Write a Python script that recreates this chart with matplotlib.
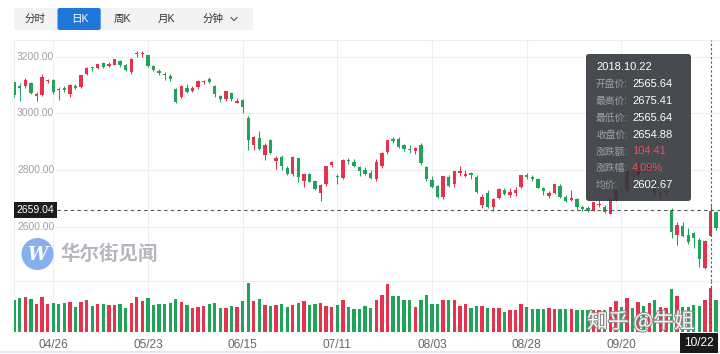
import matplotlib

matplotlib.use("Agg")
import matplotlib.pyplot as plt
import matplotlib.patheffects as pe
import numpy as np
from matplotlib.lines import Line2D
from matplotlib.patches import Ellipse, FancyBboxPatch, Rectangle

plt.rcParams["font.family"] = ["Liberation Sans", "Noto Sans CJK SC", "DejaVu Sans"]

# ---- data (SSE composite, daily K) ----
dates = [
    "04/17", "04/18", "04/19", "04/20", "04/23", "04/24", "04/25", "04/26", "04/27",
    "05/02", "05/03", "05/04", "05/07", "05/08", "05/09", "05/10", "05/11", "05/14",
    "05/15", "05/16", "05/17", "05/18", "05/21", "05/22", "05/23", "05/24", "05/25",
    "05/28", "05/29", "05/30", "05/31",
    "06/01", "06/04", "06/05", "06/06", "06/07", "06/08", "06/11", "06/12", "06/13",
    "06/14", "06/15", "06/19", "06/20", "06/21", "06/22", "06/25", "06/26", "06/27",
    "06/28", "06/29",
    "07/02", "07/03", "07/04", "07/05", "07/06", "07/09", "07/10", "07/11", "07/12",
    "07/13", "07/16", "07/17", "07/18", "07/19", "07/20", "07/23", "07/24", "07/25",
    "07/26", "07/27", "07/30", "07/31",
    "08/01", "08/02", "08/03", "08/06", "08/07", "08/08", "08/09", "08/10", "08/13",
    "08/14", "08/15", "08/16", "08/17", "08/20", "08/21", "08/22", "08/23", "08/24",
    "08/27", "08/28", "08/29", "08/30", "08/31",
    "09/03", "09/04", "09/05", "09/06", "09/07", "09/10", "09/11", "09/12", "09/13",
    "09/14", "09/17", "09/18", "09/19", "09/20", "09/21", "09/25", "09/26", "09/27",
    "09/28",
    "10/08", "10/09", "10/10", "10/11", "10/12", "10/15", "10/16", "10/17", "10/18",
    "10/19", "10/22", "10/23",
]

opens = [
    3110, 3098, 3096, 3106, 3062, 3066, 3114, 3117, 3085, 3089,
    3070, 3098, 3092, 3138, 3162, 3160, 3178, 3167, 3172, 3185,
    3170, 3146, 3208, 3210, 3205, 3166, 3150, 3140, 3133, 3085,
    3058, 3089, 3080, 3093, 3111, 3123, 3098, 3060, 3050, 3072,
    3038, 3046, 2985, 2888, 2913, 2853, 2906, 2832, 2847, 2807,
    2787, 2842, 2760, 2785, 2760, 2720, 2750, 2818, 2780, 2772,
    2836, 2830, 2812, 2800, 2790, 2770, 2815, 2862, 2910, 2908,
    2888, 2875, 2866, 2890, 2810, 2765, 2745, 2705, 2775, 2750,
    2790, 2780, 2788, 2776, 2675, 2720, 2668, 2700, 2730, 2712,
    2718, 2740, 2782, 2776, 2770, 2736, 2710, 2718, 2745, 2705,
    2695, 2698, 2668, 2666, 2660, 2675, 2670, 2645, 2695, 2732,
    2728, 2790, 2784, 2800, 2795, 2768, 2713, 2722, 2660, 2572,
    2603, 2572, 2578, 2553, 2455, 2565.64, 2653,
]
highs = [
    3112, 3106, 3126, 3110, 3075, 3140, 3123, 3120, 3092, 3095,
    3102, 3102, 3137, 3163, 3165, 3175, 3180, 3180, 3193, 3188,
    3173, 3194, 3220, 3219, 3206, 3170, 3155, 3145, 3140, 3090,
    3100, 3102, 3096, 3116, 3117, 3127, 3100, 3065, 3080, 3075,
    3055, 3050, 2990, 2921, 2938, 2895, 2910, 2851, 2852, 2815,
    2848, 2844, 2790, 2790, 2765, 2752, 2815, 2831, 2785, 2840,
    2844, 2838, 2815, 2810, 2800, 2838, 2862, 2907, 2915, 2915,
    2893, 2888, 2882, 2895, 2815, 2778, 2748, 2780, 2782, 2796,
    2815, 2800, 2792, 2782, 2715, 2730, 2700, 2736, 2736, 2735,
    2740, 2782, 2790, 2784, 2772, 2740, 2725, 2752, 2750, 2712,
    2730, 2700, 2675, 2672, 2688, 2693, 2675, 2700, 2732, 2736,
    2798, 2795, 2827, 2815, 2827, 2771, 2728, 2732, 2667, 2615,
    2615, 2595, 2581, 2560, 2553, 2675.41, 2655,
]
lows = [
    3056, 3042, 3090, 3068, 3043, 3062, 3108, 3069, 3047, 3075,
    3057, 3085, 3090, 3136, 3150, 3155, 3160, 3165, 3170, 3162,
    3148, 3139, 3200, 3200, 3164, 3148, 3135, 3118, 3115, 3037,
    3055, 3071, 3077, 3087, 3102, 3107, 3059, 3041, 3045, 3044,
    3035, 3000, 2871, 2872, 2869, 2836, 2855, 2803, 2800, 2782,
    2780, 2757, 2740, 2757, 2730, 2691, 2745, 2810, 2752, 2770,
    2822, 2810, 2778, 2782, 2770, 2763, 2808, 2855, 2895, 2877,
    2868, 2860, 2855, 2818, 2762, 2736, 2700, 2698, 2740, 2740,
    2780, 2775, 2770, 2720, 2666, 2666, 2655, 2698, 2713, 2705,
    2710, 2735, 2770, 2760, 2735, 2712, 2700, 2715, 2700, 2688,
    2690, 2660, 2657, 2652, 2655, 2670, 2648, 2644, 2690, 2716,
    2722, 2770, 2780, 2788, 2792, 2710, 2700, 2710, 2560, 2536,
    2562, 2538, 2524, 2457, 2449, 2565.64, 2590,
]
closes = [
    3066, 3091, 3117, 3071, 3068, 3128, 3117, 3075, 3082, 3081,
    3100, 3091, 3136, 3161, 3159, 3174, 3163, 3174, 3192, 3169,
    3154, 3193, 3213, 3214, 3168, 3154, 3141, 3135, 3120, 3041,
    3095, 3075, 3091, 3114, 3115, 3109, 3067, 3052, 3079, 3049,
    3044, 3021, 2907, 2915, 2875, 2889, 2859, 2844, 2813, 2786,
    2847, 2775, 2786, 2759, 2733, 2747, 2815, 2827, 2777, 2837,
    2831, 2814, 2798, 2787, 2773, 2829, 2859, 2905, 2903, 2882,
    2873, 2869, 2876, 2824, 2768, 2740, 2705, 2779, 2744, 2795,
    2795, 2785, 2781, 2723, 2705, 2669, 2698, 2733, 2714, 2724,
    2730, 2781, 2777, 2769, 2737, 2725, 2720, 2750, 2705, 2692,
    2702, 2669, 2664, 2656, 2686, 2681, 2651, 2699, 2730, 2729,
    2797, 2781, 2806, 2792, 2821, 2716, 2721, 2725, 2583, 2606,
    2568, 2546, 2560, 2486, 2550, 2654.88, 2595,
]
volumes = [
    96, 101, 104, 99, 84, 104, 83, 87, 85, 87,
    90, 75, 90, 95, 78, 84, 84, 82, 80, 84,
    72, 87, 106, 93, 102, 80, 83, 83, 87, 99,
    90, 82, 73, 75, 78, 83, 87, 71, 73, 77,
    75, 92, 148, 93, 99, 81, 78, 80, 83, 75,
    80, 87, 93, 81, 83, 87, 77, 75, 82, 95,
    75, 68, 68, 77, 73, 95, 111, 145, 108, 108,
    95, 96, 75, 96, 111, 83, 83, 96, 95, 97,
    78, 83, 71, 77, 78, 73, 73, 73, 61, 65,
    66, 85, 75, 69, 69, 69, 71, 69, 68, 68,
    68, 67, 67, 65, 65, 65, 65, 76, 93, 76,
    101, 73, 89, 79, 86, 96, 75, 73, 129, 108,
    76, 76, 81, 79, 96, 133, 96,
]

tick_dates = ["04/26", "05/23", "06/15", "07/11", "08/03", "08/28", "09/20"]
price_ticks = [3200, 3000, 2800, 2600]
cursor_date = "10/22"
cursor_price = 2659.04

tip_date = "2018.10.22"
tip_labels = ["开盘价:", "最高价:", "最低价:", "收盘价:", "涨跌额:", "涨跌幅:", "均价:"]
tip_values = ["2565.64", "2675.41", "2565.64", "2654.88", "104.41", "4.09%", "2602.67"]

tabs = ["分时", "日K", "周K", "月K", "分钟"]

RED = "#e5334d"
GREEN = "#22a35a"
GRID = "#eceef1"

W, H = 720, 354


def fx(px):
    return px / W


def fy(py):
    return 1 - py / H


fig = plt.figure(figsize=(W / 100, H / 100), dpi=100)
fig.patch.set_facecolor("white")

ax = fig.add_axes([fx(14), fy(281), fx(720) - fx(14), fy(40) - fy(281)])
axv = fig.add_axes([fx(14), fy(332), fx(720) - fx(14), fy(281) - fy(332)])

o = np.array(opens, dtype=float)
h = np.array(highs, dtype=float)
l = np.array(lows, dtype=float)
c = np.array(closes, dtype=float)
x = np.arange(len(dates))
colors = np.where(c >= o, RED, GREEN)

body_bottom = np.minimum(o, c)
body_height = np.maximum(np.abs(c - o), 2.5)

ax.vlines(x, l, h, colors=colors, lw=0.75, zorder=3)
ax.bar(x, body_height, bottom=body_bottom, width=0.6, color=colors, lw=0, zorder=4)
axv.bar(x, volumes, width=0.6, color=colors, lw=0, zorder=3)

xlim = (-0.04, 126.7)
ax.set_xlim(*xlim)
axv.set_xlim(*xlim)
ax.set_ylim(2408.3, 3258.9)
axv.set_ylim(0, 153)

for a in (ax, axv):
    a.set_xticks([])
    a.set_yticks([])
    for s in a.spines.values():
        s.set_visible(False)
    a.spines["left"].set_visible(True)
    a.spines["left"].set_color(GRID)
    a.spines["top"].set_visible(True)
    a.spines["top"].set_color(GRID)
    for d in tick_dates:
        a.axvline(dates.index(d), color=GRID, lw=0.8, zorder=0)

for p in price_ticks:
    ax.axhline(p, color=GRID, lw=0.8, zorder=0)
    ax.text((17 - 14) / 706, p, f"{p:.2f}", transform=ax.get_yaxis_transform(),
            ha="left", va="center", fontsize=7.4, color="#a0a0a0", zorder=5,
            bbox=dict(boxstyle="square,pad=0.1", fc="white", ec="none"))

# crosshair
ci = dates.index(cursor_date)
ax.axvline(ci, color="#555555", lw=0.8, ls=(0, (2, 2)), zorder=6)
axv.axvline(ci, color="#555555", lw=0.8, ls=(0, (2, 2)), zorder=6)
ax.axhline(cursor_price, xmin=(57 - 14) / 706, xmax=1, color="#555555", lw=0.8,
           ls=(0, (3, 3)), zorder=6)
ax.text((16.6 - 14) / 706, cursor_price, f"{cursor_price:.2f}",
        transform=ax.get_yaxis_transform(), ha="left", va="center", fontsize=7.5,
        color="white", zorder=7,
        bbox=dict(boxstyle="square,pad=0.28", fc="#1c1c1c", ec="none"))

# x labels
for d in tick_dates:
    axv.text(dates.index(d), (332 - 348.5) / 51, d, transform=axv.get_xaxis_transform(),
             ha="center", va="baseline", fontsize=8.6, color="#666666", clip_on=False)
fig.text(fx(699), fy(346), cursor_date, ha="center", va="baseline", fontsize=8.6,
         color="white", zorder=8,
         bbox=dict(boxstyle="square,pad=0.32", fc="#1a1a1a", ec="none"))

# bottom border
fig.add_artist(Line2D([0, 1], [fy(352), fy(352)], color="#d8e5f2", lw=1.2))

# toolbar
fig.add_artist(Rectangle((fx(14), fy(30)), fx(253) - fx(14), fy(8) - fy(30),
                         fc="#f2f3f5", ec="none"))
fig.add_artist(FancyBboxPatch((fx(57.5), fy(30)), fx(100.7) - fx(57.5), fy(8) - fy(30),
                              boxstyle="round,pad=0,rounding_size=0.003",
                              mutation_aspect=W / H, fc="#1e78dc", ec="none"))
tab_x = [35, 80, 122, 166, 213]
for t, tx in zip(tabs, tab_x):
    fig.text(fx(tx), fy(19), t, ha="center", va="center", fontsize=7.6,
             color="white" if t == "日K" else "#333333")
fig.add_artist(Line2D([fx(231), fx(234), fx(237)], [fy(17.5), fy(20.5), fy(17.5)],
                      color="#555555", lw=0.8))

# watermark logo
fig.add_artist(Ellipse((fx(37.5), fy(254)), 32 / W, 32 / H, fc="#7aa7e9", ec="none",
                       alpha=0.9))
fig.text(fx(37.5), fy(254.5), "W", ha="center", va="center", fontsize=13,
         color="white", weight="bold", family="DejaVu Serif", style="italic")
fig.text(fx(60), fy(254), "华尔街见闻", ha="left", va="center", fontsize=14,
         color="#b3b7bd", weight="bold", family=["Noto Sans CJK SC", "DejaVu Sans"])

# tooltip
fig.add_artist(FancyBboxPatch((fx(586), fy(201)), fx(691) - fx(586), fy(54) - fy(201),
                              boxstyle="round,pad=0,rounding_size=0.004",
                              mutation_aspect=W / H, fc="#33363b", ec="none",
                              alpha=0.9, zorder=5))
fig.text(fx(596), fy(67.5), tip_date, ha="left", va="center", fontsize=8,
         color="white", zorder=6)
for k, (lab, val) in enumerate(zip(tip_labels, tip_values)):
    yy = 84.3 + k * 16.8
    fig.text(fx(596), fy(yy), lab, ha="left", va="center", fontsize=7,
             color="#9ea2a8", zorder=6)
    vc = "#ec4c64" if lab in ("涨跌额:", "涨跌幅:") else "white"
    fig.text(fx(632), fy(yy), val, ha="left", va="center", fontsize=8, color=vc,
             zorder=6)

# zhihu watermark
fig.text(fx(587), fy(322), "知乎 @牛姐", ha="left", va="center", fontsize=15,
         color="white", alpha=0.95, zorder=9,
         family=["Noto Sans CJK SC", "DejaVu Sans"],
         path_effects=[pe.withStroke(linewidth=1.6, foreground="#8a8a8a")])

fig.savefig("out.png", dpi=100)
